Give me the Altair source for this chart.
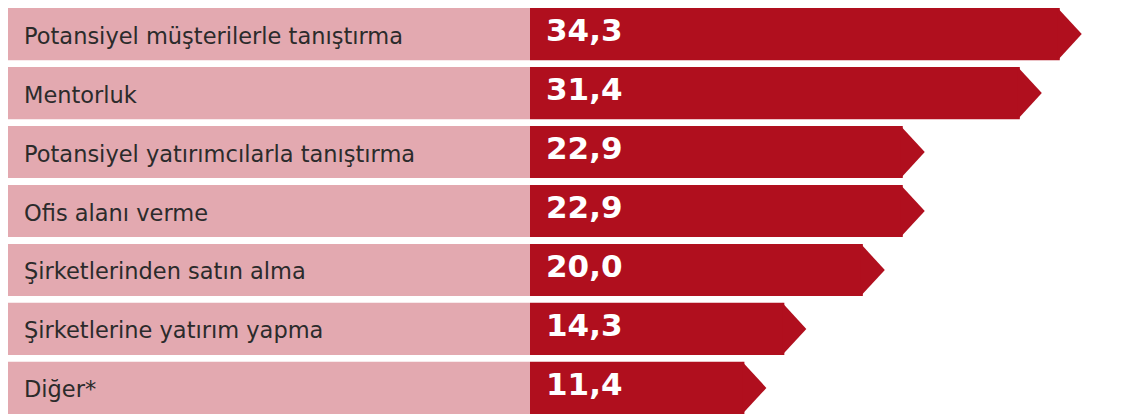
import altair as alt
import pandas as pd

categories = [
    "Potansiyel müşterilerle tanıştırma",
    "Mentorluk",
    "Potansiyel yatırımcılarla tanıştırma",
    "Ofis alanı verme",
    "Şirketlerinden satın alma",
    "Şirketlerine yatırım yapma",
    "Diğer*",
]
values = [34.3, 31.4, 22.9, 22.9, 20.0, 14.3, 11.4]

df = pd.DataFrame({"label": categories, "value": values})

PINK = "#e3a9b0"
RED = "#b00f1e"
H = 406
W = 1105
N = len(categories)
PAD = 0.115
band = H / (N - PAD) * (1 - PAD)
tip_size = band ** 2
TIP = 22 / (band / 2)

y = alt.Y("label:N", sort=categories,
          scale=alt.Scale(paddingInner=PAD, paddingOuter=0), axis=None)
xs = alt.Scale(domain=[0, 35], range=[579.4, 1061.4])
xenc = alt.X("value:Q", scale=xs, axis=None, stack=None)

base = alt.Chart(df)

bg = base.mark_bar(color=PINK).encode(x=alt.value(0), x2=alt.value(522), y=y)
bar = base.mark_bar(color=RED).encode(x=xenc, x2=alt.value(522), y=y)
tip = base.mark_point(
    shape=f"M-0.08,-1L{TIP:.3f},0L-0.08,1Z", filled=True, opacity=1,
    color=RED, size=tip_size, strokeWidth=0,
).encode(x=xenc, y=y)
lab = base.mark_text(
    align="left", baseline="middle", font="DejaVu Sans", fontSize=22.5,
    color="#2b2b2b", dy=2.5,
).encode(x=alt.value(16), y=y, text="label:N")
val = base.transform_calculate(
    txt="replace(format(datum.value, '.1f'), '.', ',')"
).mark_text(
    align="left", baseline="middle", font="DejaVu Sans", fontWeight="bold",
    fontSize=31, color="white", dy=-2,
).encode(x=alt.value(538), y=y, text="txt:N")

chart = alt.layer(bg, bar, tip, lab, val).properties(
    width=W, height=H, padding=0
).configure_view(stroke=None)

chart.save("out.html", embed_options={"renderer": "svg", "actions": False})
